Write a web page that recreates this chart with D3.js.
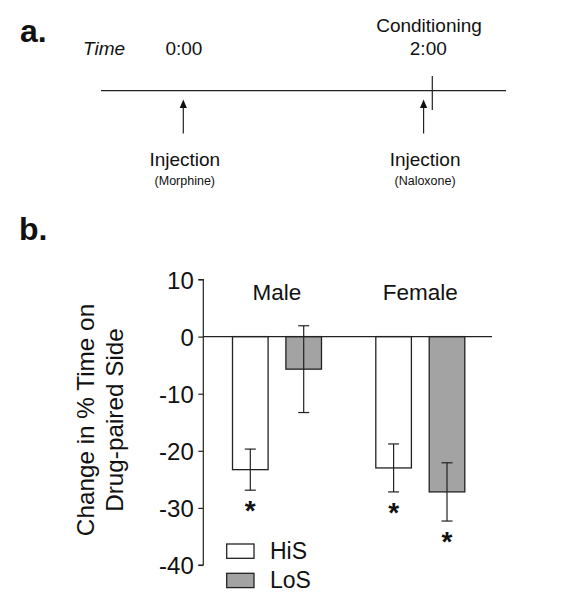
<!DOCTYPE html>
<html><head><meta charset="utf-8">
<script src="https://cdn.jsdelivr.net/npm/d3@7"></script>
<style>body{margin:0;background:#fff}svg{display:block}text{font-family:"Liberation Sans",Arial,Helvetica,sans-serif;fill:#111}</style>
</head><body><svg id="c" width="574" height="601"></svg>
<script>
// ---- Data ----
const sexes = ["Male", "Female"];
const lines = ["HiS", "LoS"];
const meanMale = [-23.3, -5.7];
const semMale = [3.6, 7.6];
const meanFemale = [-23.0, -27.2];
const semFemale = [4.2, 5.1];
const significant = [[true, false], [true, true]];
const yTicks = [10, 0, -10, -20, -30, -40];
const yTickLabels = ["10", "0", "-10", "-20", "-30", "-40"];
const lineColors = ["#ffffff", "#a3a3a3"];
// timeline (panel a)
const timeEvents = ["0:00", "2:00"];
const timeHours = [0, 2];
const injections = ["Morphine", "Naloxone"];
const injectionHours = [0, 1.93];

const svg = d3.select("#c");

// ---------- Panel a ----------
svg.append("text").attr("x", 20).attr("y", 42).attr("font-size", 32).attr("font-weight", "bold").text("a.");
const tx = d3.scaleLinear().domain([0, 2]).range([183.3, 432.3]);
const lineY = 90.7;
svg.append("text").attr("x", 83).attr("y", 55).attr("font-size", 19).attr("font-style", "italic").text("Time");
svg.append("line").attr("x1", 101).attr("x2", 506).attr("y1", lineY).attr("y2", lineY).attr("stroke", "#222").attr("stroke-width", 1.2);
svg.append("line").attr("x1", tx(2)).attr("x2", tx(2)).attr("y1", 76).attr("y2", 110).attr("stroke", "#222").attr("stroke-width", 1.2);
timeEvents.forEach((t, i) => {
  svg.append("text").attr("x", tx(timeHours[i]) + (i === 0 ? 0.6 : -4)).attr("y", 55).attr("font-size", 19).attr("text-anchor", "middle").text(t);
});
svg.append("text").attr("x", 429).attr("y", 31.5).attr("font-size", 19).attr("text-anchor", "middle").text("Conditioning");
injections.forEach((d, i) => {
  const x = tx(injectionHours[i]);
  svg.append("line").attr("x1", x).attr("x2", x).attr("y1", 106).attr("y2", 133.5).attr("stroke", "#222").attr("stroke-width", 1.2);
  svg.append("path").attr("d", `M${x},99.5 L${x - 3.6},108 L${x + 3.6},108 Z`).attr("fill", "#111");
  svg.append("text").attr("x", x + 1.5).attr("y", 166).attr("font-size", 19).attr("text-anchor", "middle").text("Injection");
  svg.append("text").attr("x", x + 1.5).attr("y", 185).attr("font-size", 12.5).attr("text-anchor", "middle").text("(" + d + ")");
});

// ---------- Panel b ----------
svg.append("text").attr("x", 19).attr("y", 240).attr("font-size", 32).attr("font-weight", "bold").text("b.");

const y = d3.scaleLinear().domain([-40, 10]).range([565, 279.5]);
const groupCenters = {Male: 277, Female: 420.3};
const off = 26.7, bw = 35.6;

const data = [];
sexes.forEach((s, i) => {
  const m = i === 0 ? meanMale : meanFemale;
  const e = i === 0 ? semMale : semFemale;
  lines.forEach((l, j) => data.push({sex: s, line: l, j, mean: m[j], sem: e[j], sig: significant[i][j]}));
});
const cx = d => groupCenters[d.sex] + (d.j === 0 ? -off : off);

// axis
const axis = d3.axisLeft(y).tickValues(yTicks).tickSize(5).tickPadding(4.5)
  .tickFormat(d => yTickLabels[yTicks.indexOf(d)]);
const ax = svg.append("g").attr("transform", "translate(203.3,0)").call(axis);
ax.select(".domain").attr("stroke", "#222").attr("stroke-width", 1.2).attr("d", `M-5,${y(10)}H0V${y(-40)}H-5`);
ax.selectAll(".tick line").attr("stroke", "#222").attr("stroke-width", 1.2);
ax.selectAll(".tick text").attr("font-size", 24).attr("fill", "#111").attr("font-family", '"Liberation Sans",Arial,sans-serif').attr("dy", "0.36em");

// bars
svg.append("g").selectAll("rect").data(data).join("rect")
  .attr("x", d => cx(d) - bw / 2).attr("width", bw)
  .attr("y", d => y(Math.max(0, d.mean))).attr("height", d => Math.abs(y(d.mean) - y(0)))
  .attr("fill", d => lineColors[d.j]).attr("stroke", "#222").attr("stroke-width", 1.3);

// zero line
svg.append("line").attr("x1", 203.3).attr("x2", 492).attr("y1", y(0)).attr("y2", y(0)).attr("stroke", "#222").attr("stroke-width", 1.2);

// error bars
const eb = svg.append("g").attr("stroke", "#222").attr("stroke-width", 1.2);
data.forEach(d => {
  const x = cx(d);
  eb.append("line").attr("x1", x).attr("x2", x).attr("y1", y(d.mean + d.sem)).attr("y2", y(d.mean - d.sem));
  [d.mean + d.sem, d.mean - d.sem].forEach(v => eb.append("line").attr("x1", x - 5.5).attr("x2", x + 5.5).attr("y1", y(v)).attr("y2", y(v)));
});

// significance asterisks
svg.append("g").selectAll("text").data(data.filter(d => d.sig)).join("text")
  .attr("x", d => cx(d)).attr("y", d => y(d.mean - d.sem) + 30)
  .attr("text-anchor", "middle").attr("font-size", 28).attr("font-weight", "bold").text("*");

// group labels
sexes.forEach(s => svg.append("text").attr("x", groupCenters[s]).attr("y", 300).attr("font-size", 22.5).attr("text-anchor", "middle").text(s));

// y title
const yt = svg.append("text").attr("transform", "translate(0,420) rotate(-90)").attr("font-size", 24.3).attr("text-anchor", "middle");
yt.append("tspan").attr("x", 0).attr("y", 94).text("Change in % Time on");
yt.append("tspan").attr("x", 0).attr("y", 123).text("Drug-paired Side");

// legend
lines.forEach((l, j) => {
  const ly = 544 + j * 29.3;
  svg.append("rect").attr("x", 226.7).attr("y", ly).attr("width", 27.3).attr("height", 14.3).attr("fill", lineColors[j]).attr("stroke", "#222").attr("stroke-width", 1.3);
  svg.append("text").attr("x", 270).attr("y", ly + 14.5).attr("font-size", 23).text(l);
});
</script></body></html>
